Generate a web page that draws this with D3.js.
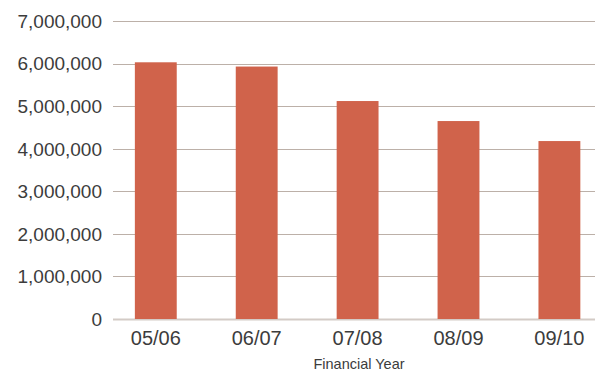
<!DOCTYPE html>
<html>
<head>
<meta charset="utf-8">
<script src="https://cdn.jsdelivr.net/npm/d3@7"></script>
<style>
body { margin: 0; background: #fff; }
text { font-family: "Helvetica Neue", "Liberation Sans", Arial, sans-serif; fill: #3c3c3c; }
</style>
</head>
<body>
<svg id="chart"></svg>
<script>
var years = ["05/06", "06/07", "07/08", "08/09", "09/10"];
var values = [6030000, 5930000, 5120000, 4650000, 4180000];
var yTicks = [0, 1000000, 2000000, 3000000, 4000000, 5000000, 6000000, 7000000];

var width = 595, height = 373;
var gridLeft = 113, gridRight = 595;
var yTop = 21, yBot = 319;

var svg = d3.select("#chart")
.attr("width", width)
.attr("height", height);

var x = d3.scaleBand()
.domain(years)
.range([105.6, 609.6])
.paddingInner(0.585)
.paddingOuter(0.29);

var y = d3.scaleLinear()
.domain([0, 7000000])
.range([yBot, yTop]);

// gridlines
svg.append("g").selectAll("line").data(yTicks)
.enter().append("line")
.attr("x1", gridLeft).attr("x2", gridRight)
.attr("y1", function(d) { return Math.round(y(d)) + 0.5; })
.attr("y2", function(d) { return Math.round(y(d)) + 0.5; })
.attr("stroke", function(d) { return d === 0 ? "#d3cbc6" : "#bcb0a8"; })
.attr("stroke-width", function(d) { return d === 0 ? 2 : 1; });

// bars
svg.append("g").selectAll("rect").data(values)
.enter().append("rect")
.attr("x", function(d, i) { return x(years[i]); })
.attr("width", x.bandwidth())
.attr("y", function(d) { return y(d); })
.attr("height", function(d) { return yBot - y(d); })
.attr("fill", "#d0634b");

// y labels
var fmt = d3.format(",");
svg.append("g").selectAll("text").data(yTicks)
.enter().append("text")
.attr("x", 102)
.attr("y", function(d) { return y(d); })
.attr("dy", "0.36em")
.attr("text-anchor", "end")
.attr("font-size", "19px")
.text(function(d) { return fmt(d); });

// x labels
svg.append("g").selectAll("text").data(years)
.enter().append("text")
.attr("x", function(d) { return x(d) + x.bandwidth()/2; })
.attr("y", 345)
.attr("text-anchor", "middle")
.attr("font-size", "20px")
.text(function(d) { return d; });

svg.append("text")
.attr("x", 359)
.attr("y", 369)
.attr("text-anchor", "middle")
.attr("font-size", "14.5px")
.text("Financial Year");
</script>
</body>
</html>
